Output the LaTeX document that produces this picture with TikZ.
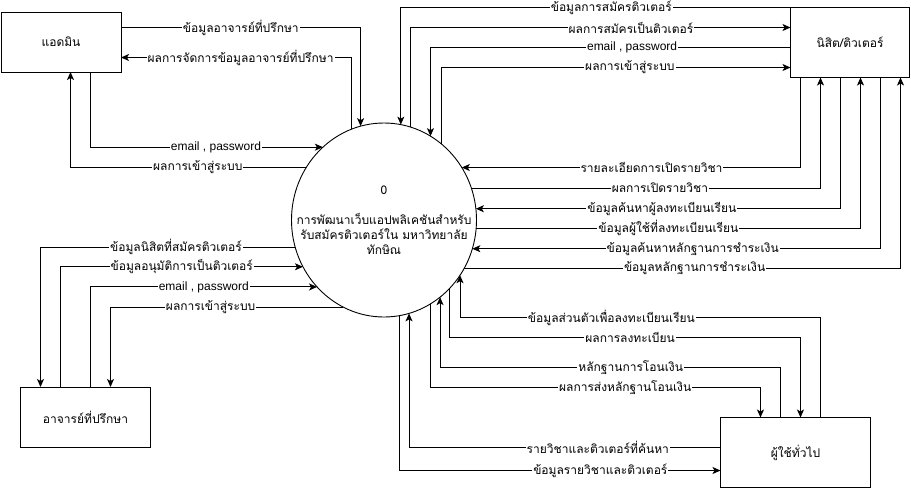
\documentclass[tikz,border=0pt]{standalone}
\usepackage{fontspec}
\setmainfont{Liberation Sans}
\newfontfamily\thaifont[Script=Thai]{Loma}
\usetikzlibrary{arrows.meta}
\usetikzlibrary{shapes}

\begin{document}
\begin{tikzpicture}[x=1pt, y=-1pt, line width=0.9pt, >={Stealth[length=8pt,width=7pt,inset=2pt]},
    every node/.style={font=\fontsize{12}{15}\selectfont},
    entity/.style={draw, rectangle, outer sep=0pt, font=\thaifont\fontsize{12}{15}\selectfont},
    process/.style={draw, ellipse, outer sep=0pt, inner sep=0pt, minimum width=185pt, minimum height=194pt},
    flow/.style={fill=white, inner sep=1pt, font=\thaifont\fontsize{12}{15}\selectfont},
    flowen/.style={fill=white, inner sep=1pt, font=\fontsize{12}{15}\selectfont}]
      \useasboundingbox (0,0) rectangle (911,488);

      % entities
      \node[entity, minimum width=120pt, minimum height=60pt]  (admin)   at (61,42)      {แอดมิน};
      \node[entity, minimum width=119pt, minimum height=70pt]  (nisit)   at (850,42.5)   {นิสิต/ติวเตอร์};
      \node[entity, minimum width=130pt, minimum height=60pt]  (advisor) at (85.5,417)   {อาจารย์ที่ปรึกษา};
      \node[entity, minimum width=150pt, minimum height=70pt]  (user)    at (795.5,452.5) {ผู้ใช้ทั่วไป};

      % process 0
      \node[process] (proc) at (384,220) {};
      \node[align=center, font=\thaifont\fontsize{12}{15}\selectfont] (proctext) at (proc.center)
        {0\\[15pt]การพัฒนาเว็บแอปพลิเคชันสำหรับ\\รับสมัครติวเตอร์ใน มหาวิทยาลัย\\ทักษิณ};

      % admin
      \draw[->] (admin.east |- 0,27.5) -| node[flow, pos=0.25] {ข้อมูลอาจารย์ที่ปรึกษา} (proc.104.06);
      \draw[->] (proc.110.33) |- node[flow, pos=0.74] {ผลการจัดการข้อมูลอาจารย์ที่ปรึกษา} (admin.east |- 0,57.5);
      \draw[->] (admin.south -| 90.5,0) |- node[flowen, pos=0.77] {email , password} (proc.130.31);
      \draw[->] (proc.146) -| node[flow, pos=0.23] {ผลการเข้าสู่ระบบ} (admin.south -| 70.5,0);

      % nisit / tutor, top
      \draw[->] (nisit.north west) -| node[flow, pos=0.23] {ข้อมูลการสมัครติวเตอร์} (proc.80.19);
      \draw[->] (proc.74.08) |- node[flow, pos=0.79] {ผลการสมัครเป็นติวเตอร์} (nisit.west |- 0,27.5);
      \draw[->] (nisit.west |- 0,47.5) -| node[flowen, pos=0.22] {email , password} (proc.61.0);
      \draw[->] (proc.53.67) |- node[flow, pos=0.77] {ผลการเข้าสู่ระบบ} (nisit.west |- 0,67.5);

      % nisit / tutor, bottom
      \draw[->] (nisit.south -| 800.5,0) |- node[flow, pos=0.72] {รายละเอียดการเปิดรายวิชา} (proc.34.0);
      \draw[->] (proc.20.45) -| node[flow, pos=0.27] {ผลการเปิดรายวิชา} (nisit.south -| 820.5,0);
      \draw[->] (nisit.south -| 840.5,0) |- node[flow, pos=0.745] {ข้อมูลค้นหาผู้ลงทะเบียนเรียน} (proc.7.76);
      \draw[->] (proc.355.35) -| node[flow, pos=0.25] {ข้อมูลผู้ใช้ที่ลงทะเบียนเรียน} (nisit.south -| 860.5,0);
      \draw[->] (nisit.south -| 880.5,0) |- node[flow, pos=0.73] {ข้อมูลค้นหาหลักฐานการชำระเงิน} (proc.342.78);
      \draw[->] (proc.329.51) -| node[flow, pos=0.264] {ข้อมูลหลักฐานการชำระเงิน} (nisit.south -| 900.5,0);

      % advisor
      \draw[->] (proc.197.22) -| node[flow, pos=0.234] {ข้อมูลนิสิตที่สมัครติวเตอร์} (advisor.north -| 40.5,0);
      \draw[->] (advisor.north -| 60.5,0) |- node[flow, pos=0.75] {ข้อมูลอนุมัติการเป็นติวเตอร์} (proc.210.49);
      \draw[->] (advisor.north -| 90.5,0) |- node[flowen, pos=0.75] {email , password} (proc.225.47);
      \draw[->] (proc.245.49) -| node[flow, pos=0.285] {ผลการเข้าสู่ระบบ} (advisor.north -| 110.5,0);

      % general user
      \draw[->] (user.north -| 820.5,0) |- node[flow, pos=0.79] {ข้อมูลส่วนตัวเพื่อลงทะเบียนเรียน} (proc.324.53 |- 0,317.5) -- (proc.324.53);
      \draw[->] (proc.314.62) -- (proc.314.62 |- 0,337.5) -| node[flow, pos=0.257] {ผลการลงทะเบียน} (user.north -| 800.5,0);
      \draw[->] (user.north -| 780.5,0) |- node[flow, pos=0.72] {หลักฐานการโอนเงิน} (proc.306.33 |- 0,367.5) -- (proc.306.33);
      \draw[->] (proc.299.0) -- (proc.299.0 |- 0,387.5) -| node[flow, pos=0.295] {ผลการส่งหลักฐานโอนเงิน} (user.north -| 760.5,0);
      \draw[->] (user.west |- 0,447.5) -| node[flow, pos=0.197] {รายวิชาและติวเตอร์ที่ค้นหา} (proc.285.92);
      \draw[->] (proc.279.81) |- node[flow, pos=0.813] {ข้อมูลรายวิชาและติวเตอร์} (user.west |- 0,470.5);
\end{tikzpicture}
\end{document}
